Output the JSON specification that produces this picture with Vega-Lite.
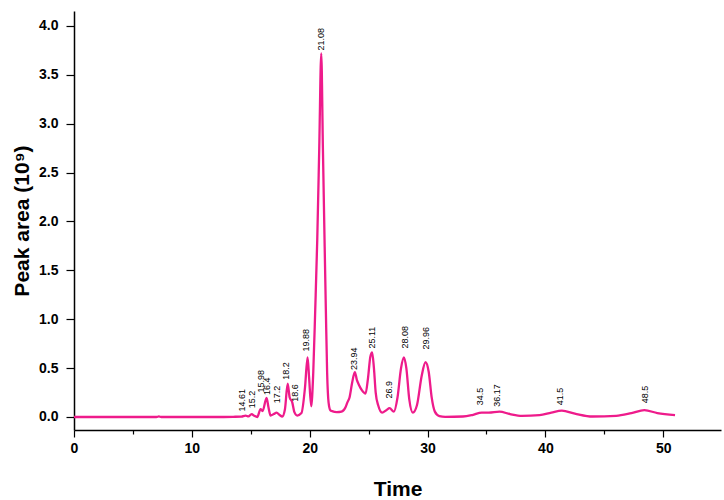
{
  "$schema": "https://vega.github.io/schema/vega-lite/v6.json",
  "width": 647,
  "height": 419,
  "autosize": "none",
  "padding": {"left": 74, "top": 11, "right": 3, "bottom": 70},
  "background": "white",
  "config": {
    "view": {"stroke": null},
    "axis": {
      "grid": false,
      "domainColor": "black",
      "tickColor": "black",
      "labelColor": "black",
      "titleColor": "black",
      "labelFont": "Liberation Sans",
      "titleFont": "Liberation Sans",
      "labelFontWeight": "bold",
      "titleFontWeight": "bold",
      "labelFontSize": 14,
      "titleFontSize": 21,
      "domainWidth": 1.5,
      "tickWidth": 1.2
    }
  },
  "datasets": {
    "curve": [
      {"t": 0, "v": 0}, {"t": 5, "v": 0}, {"t": 7.0, "v": 0}, {"t": 7.2, "v": 0.006}, {"t": 7.4, "v": 0},
      {"t": 10, "v": 0}, {"t": 12, "v": 0}, {"t": 13.5, "v": 0.002}, {"t": 14.2, "v": 0.004},
      {"t": 14.56, "v": 0.015}, {"t": 14.8, "v": 0.006}, {"t": 15.07, "v": 0.03}, {"t": 15.3, "v": 0.012},
      {"t": 15.55, "v": 0.0}, {"t": 15.83, "v": 0.08}, {"t": 16.0, "v": 0.06}, {"t": 16.34, "v": 0.195},
      {"t": 16.5, "v": 0.1}, {"t": 16.68, "v": 0.015}, {"t": 16.95, "v": 0.03}, {"t": 17.19, "v": 0.045},
      {"t": 17.45, "v": 0.02}, {"t": 17.67, "v": 0.005}, {"t": 17.9, "v": 0.08}, {"t": 18.13, "v": 0.34},
      {"t": 18.3, "v": 0.2}, {"t": 18.52, "v": 0.15}, {"t": 18.7, "v": 0.05}, {"t": 18.94, "v": 0.015},
      {"t": 19.3, "v": 0.04}, {"t": 19.6, "v": 0.3}, {"t": 19.82, "v": 0.61}, {"t": 19.95, "v": 0.4},
      {"t": 20.13, "v": 0.11}, {"t": 20.3, "v": 0.45}, {"t": 20.47, "v": 1.1}, {"t": 20.64, "v": 1.81},
      {"t": 20.81, "v": 2.75}, {"t": 20.98, "v": 3.72}, {"t": 21.12, "v": 2.75}, {"t": 21.26, "v": 1.81},
      {"t": 21.37, "v": 1.1}, {"t": 21.48, "v": 0.45}, {"t": 21.6, "v": 0.15}, {"t": 21.75, "v": 0.07},
      {"t": 21.9, "v": 0.06}, {"t": 22.3, "v": 0.05}, {"t": 22.7, "v": 0.055}, {"t": 23.04, "v": 0.1},
      {"t": 23.2, "v": 0.15}, {"t": 23.38, "v": 0.2}, {"t": 23.6, "v": 0.35}, {"t": 23.83, "v": 0.46},
      {"t": 24.0, "v": 0.38}, {"t": 24.17, "v": 0.33}, {"t": 24.45, "v": 0.27}, {"t": 24.74, "v": 0.24},
      {"t": 24.95, "v": 0.4}, {"t": 25.15, "v": 0.62}, {"t": 25.3, "v": 0.66}, {"t": 25.45, "v": 0.5},
      {"t": 25.6, "v": 0.25}, {"t": 25.81, "v": 0.12}, {"t": 26.15, "v": 0.045}, {"t": 26.5, "v": 0.07},
      {"t": 26.78, "v": 0.09}, {"t": 27.14, "v": 0.055}, {"t": 27.45, "v": 0.2}, {"t": 27.75, "v": 0.5},
      {"t": 27.99, "v": 0.61}, {"t": 28.2, "v": 0.5}, {"t": 28.45, "v": 0.18}, {"t": 28.75, "v": 0.045},
      {"t": 29.1, "v": 0.12}, {"t": 29.5, "v": 0.42}, {"t": 29.83, "v": 0.56}, {"t": 30.1, "v": 0.46},
      {"t": 30.35, "v": 0.2}, {"t": 30.62, "v": 0.055}, {"t": 31.0, "v": 0.01}, {"t": 31.5, "v": 0.002},
      {"t": 33.0, "v": 0.005}, {"t": 33.8, "v": 0.02}, {"t": 34.6, "v": 0.045}, {"t": 35.2, "v": 0.045},
      {"t": 36.1, "v": 0.055}, {"t": 37.0, "v": 0.03}, {"t": 38.0, "v": 0.012}, {"t": 39.5, "v": 0.02},
      {"t": 40.5, "v": 0.045}, {"t": 41.4, "v": 0.065}, {"t": 42.5, "v": 0.035}, {"t": 44.0, "v": 0.005},
      {"t": 46.0, "v": 0.012}, {"t": 47.3, "v": 0.04}, {"t": 48.4, "v": 0.07}, {"t": 49.5, "v": 0.04},
      {"t": 51.0, "v": 0.02}
    ],
    "peaks": [
      {"t": 14.27, "v": 0.055, "label": "14.61"},
      {"t": 15.12, "v": 0.09, "label": "15.2"},
      {"t": 15.83, "v": 0.25, "label": "15.98"},
      {"t": 16.4, "v": 0.225, "label": "16.4"},
      {"t": 17.19, "v": 0.14, "label": "17.2"},
      {"t": 18.0, "v": 0.38, "label": "18.2"},
      {"t": 18.74, "v": 0.155, "label": "18.6"},
      {"t": 19.65, "v": 0.67, "label": "19.88"},
      {"t": 20.95, "v": 3.75, "label": "21.08"},
      {"t": 23.75, "v": 0.48, "label": "23.94"},
      {"t": 25.3, "v": 0.7, "label": "25.11"},
      {"t": 26.72, "v": 0.19, "label": "26.9"},
      {"t": 28.07, "v": 0.7, "label": "28.08"},
      {"t": 29.91, "v": 0.69, "label": "29.96"},
      {"t": 34.44, "v": 0.12, "label": "34.5"},
      {"t": 35.9, "v": 0.105, "label": "36.17"},
      {"t": 41.28, "v": 0.12, "label": "41.5"},
      {"t": 48.49, "v": 0.14, "label": "48.5"}
    ]
  },
  "layer": [
    {
      "data": {"name": "curve"},
      "mark": {"type": "line", "color": "#ee1b8b", "strokeWidth": 2.3, "interpolate": "monotone"},
      "encoding": {
        "x": {
          "field": "t", "type": "quantitative",
          "scale": {"domain": [0, 54.9], "nice": false, "zero": false},
          "axis": {
            "title": "Time",
            "values": [0, 5, 10, 15, 20, 25, 30, 35, 40, 45, 50],
            "labelExpr": "datum.value % 10 == 0 ? datum.label : ''",
            "labelFlush": false,
            "labelOverlap": false,
            "tickSize": {"condition": {"test": "datum.value % 10 == 0", "value": 7}, "value": 4},
            "labelPadding": 4,
            "titlePadding": 23
          }
        },
        "y": {
          "field": "v", "type": "quantitative",
          "scale": {"domain": [-0.133, 4.153], "nice": false, "zero": false},
          "axis": {
            "title": "Peak area (10⁹)",
            "values": [0, 0.25, 0.5, 0.75, 1, 1.25, 1.5, 1.75, 2, 2.25, 2.5, 2.75, 3, 3.25, 3.5, 3.75, 4],
            "labelExpr": "abs(datum.value*2 - round(datum.value*2)) < 0.001 ? format(datum.value, '.1f') : ''",
            "labelOverlap": false,
            "tickSize": {"condition": {"test": "abs(datum.value*2 - round(datum.value*2)) < 0.001", "value": 8}, "value": 4},
            "labelPadding": 8,
            "titlePadding": 6
          }
        }
      }
    },
    {
      "data": {"name": "peaks"},
      "mark": {"type": "text", "angle": 270, "align": "left", "baseline": "middle", "fontSize": 9, "font": "Liberation Sans", "color": "black"},
      "encoding": {
        "x": {"field": "t", "type": "quantitative"},
        "y": {"field": "v", "type": "quantitative"},
        "text": {"field": "label"}
      }
    }
  ]
}
